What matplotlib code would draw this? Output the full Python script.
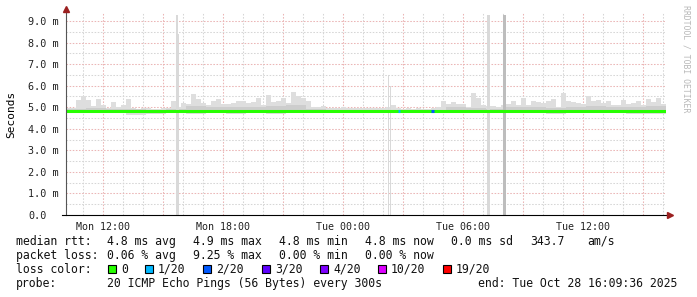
import numpy as np
import matplotlib
matplotlib.use("Agg")
import matplotlib.pyplot as plt
from matplotlib.patches import Rectangle

plt.rcParams["font.family"] = "DejaVu Sans Mono"

W, H = 697, 297

# time axis in hours since Mon 00:00, graph ends Tue 16:09:36
t_end = 40.16
t_start = t_end - 30.0

# smoke top (max ping) per 15 min bin, ms
smoke_hi = [
    4.95, 4.95, 5.35, 5.50, 5.35, 5.05, 5.40, 5.10, 4.95, 5.25,
    5.00, 5.10, 5.40, 4.95, 4.90, 4.95, 4.95, 4.90, 4.90, 4.95,
    4.95, 5.30, 5.00, 5.20, 5.15, 5.60, 5.40, 5.20, 5.10, 5.30,
    5.40, 5.15, 5.15, 5.20, 5.30, 5.30, 5.20, 5.25, 5.45, 5.10,
    5.55, 5.25, 5.30, 5.45, 5.20, 5.70, 5.50, 5.45, 5.30, 5.00,
    5.00, 5.05, 4.95, 4.95, 4.95, 5.00, 4.95, 4.95, 4.95, 4.95,
    4.95, 4.95, 4.95, 4.95, 5.00, 5.10, 4.95, 4.90, 4.95, 4.90,
    4.95, 4.90, 4.90, 4.95, 5.00, 5.30, 5.15, 5.25, 5.15, 5.15,
    5.00, 5.65, 5.45, 5.10, 5.05, 5.05, 5.00, 5.10, 5.15, 5.30,
    5.10, 5.45, 5.10, 5.30, 5.25, 5.20, 5.30, 5.40, 5.00, 5.65,
    5.30, 5.25, 5.20, 5.15, 5.50, 5.30, 5.35, 5.20, 5.30, 5.10,
    5.10, 5.35, 5.15, 5.20, 5.30, 5.10, 5.40, 5.25, 5.45, 5.15,
]

# hourly values: darker smoke top, smoke bottom, median rtt (ms)
smoke_mid = [
    4.92, 4.97, 4.90, 4.90, 4.86, 4.90, 5.05, 5.02, 5.00, 5.02,
    5.05, 5.08, 4.92, 4.87, 4.87, 4.87, 4.87, 4.86, 4.87, 5.00,
    4.95, 4.92, 5.00, 5.02, 4.95, 5.03, 5.05, 5.00, 5.02, 5.05,
]
smoke_lo = [
    4.72, 4.72, 4.71, 4.66, 4.70, 4.72, 4.68, 4.72, 4.70, 4.71,
    4.68, 4.71, 4.72, 4.71, 4.72, 4.72, 4.71, 4.72, 4.72, 4.71,
    4.72, 4.72, 4.71, 4.72, 4.70, 4.72, 4.71, 4.72, 4.70, 4.69,
]
median = [
    4.82, 4.82, 4.83, 4.82, 4.82, 4.83, 4.82, 4.83, 4.83, 4.82,
    4.82, 4.82, 4.81, 4.81, 4.81, 4.81, 4.81, 4.81, 4.81, 4.82,
    4.82, 4.82, 4.82, 4.83, 4.82, 4.82, 4.82, 4.82, 4.82, 4.81,
]

# isolated spikes: time (h), height (ms), width (h), shade
spike_t = [15.66, 15.76, 26.26, 26.34, 31.20, 32.02]
spike_v = [9.30, 8.40, 6.50, 6.00, 9.30, 9.30]
spike_w = [0.09, 0.07, 0.06, 0.06, 0.14, 0.14]
spike_c = ["#d9d9d9", "#d9d9d9", "#d9d9d9", "#d9d9d9", "#d9d9d9", "#bdbdbd"]

# packet loss periods (start h, end h, loss colour index)
loss_t0 = [26.76, 28.41]
loss_t1 = [26.88, 28.56]
loss_i = [1, 2]

loss_labels = ["0", "1/20", "2/20", "3/20", "4/20", "10/20", "19/20"]
loss_colors = ["#26ff00", "#00b8ff", "#0059ff", "#5e00ff", "#7e00ff", "#dd00ff", "#ff0000"]

xtick_pos = [12, 18, 24, 30, 36]
xtick_lab = ["Mon 12:00", "Mon 18:00", "Tue 00:00", "Tue 06:00", "Tue 12:00"]
ytick_pos = list(range(10))
ytick_lab = ["0.0"] + ["%d.0 m" % v for v in range(1, 10)]

fig = plt.figure(figsize=(W / 100, H / 100), dpi=100)
ax = fig.add_axes([66 / W, 1 - 215 / H, 600 / W, 202 / H])
ax.set_xlim(t_start, t_end)
ax.set_ylim(0, 9.37)
for s in ax.spines.values():
    s.set_visible(False)

# grid
dots = (0, (1.5, 1.5))
for h in np.arange(11, 41, 1):
    major = h % 3 == 0
    ax.axvline(h, color="#ebb6b6" if major else "#d6d6d6", lw=0.75, ls=dots, zorder=1)
for v in np.arange(0.5, 9.4, 0.5):
    major = v % 1 == 0
    ax.axhline(v, color="#ebb6b6" if major else "#d6d6d6", lw=0.75, ls=dots, zorder=1)

# smoke
e15 = t_start + 0.25 * np.arange(len(smoke_hi) + 1)
eh = t_start + np.arange(len(median) + 1)
lo15 = np.repeat(smoke_lo, 4)
ax.fill_between(e15, np.append(lo15, lo15[-1]), np.append(smoke_hi, smoke_hi[-1]),
                step="post", color="#dedede", lw=0, zorder=2)
ax.fill_between(eh, np.append(median, median[-1]), np.append(smoke_mid, smoke_mid[-1]),
                step="post", color="#cdcdcd", lw=0, zorder=2)
ax.bar(spike_t, spike_v, width=spike_w, color=spike_c, align="edge", lw=0, zorder=2)

# median line coloured by loss
ax.step(eh, np.append(median, median[-1]), where="post", color=loss_colors[0],
        lw=2.2, zorder=3, solid_capstyle="butt")
for a, b, i in zip(loss_t0, loss_t1, loss_i):
    m = median[int(a - t_start)]
    ax.hlines(m, a, b, color=loss_colors[i], lw=2.2, zorder=4)

# axes with arrows
ax.plot([0, 0], [0, 1.02], transform=ax.transAxes, color="#555555", lw=0.8, clip_on=False, zorder=5)
ax.plot([-0.007, 1.004], [0, 0], transform=ax.transAxes, color="black", lw=0.8, clip_on=False, zorder=5)
ax.plot([0], [1.018], marker="^", ms=4, color="#9b2020", transform=ax.transAxes, clip_on=False, zorder=6)
ax.plot([1.007], [0], marker=">", ms=4, color="#9b2020", transform=ax.transAxes, clip_on=False, zorder=6)

ax.set_xticks(xtick_pos)
ax.set_xticklabels(xtick_lab, fontsize=7.2, color="#222222")
ax.set_yticks(ytick_pos)
ax.set_yticklabels(ytick_lab, fontsize=7.3, color="#222222", ha="left")
ax.tick_params(axis="x", length=0, pad=5)
ax.tick_params(axis="y", length=0, pad=27)

fig.text(11 / W, 1 - 114 / H, "Seconds", rotation=90, ha="center", va="center", fontsize=8)
fig.text(686 / W, 1 - 5 / H, "RRDTOOL / TOBI OETIKER", rotation=270, ha="center", va="top",
         fontsize=5.9, color="#b8b8b8")


def ftext(x, y, s, **kw):
    fig.text(x / W, 1 - y / H, s, fontsize=8.3, va="baseline", color="#111111", **kw)


# legend rows
row1 = ["median rtt:", "4.8 ms avg", "4.9 ms max", "4.8 ms min", "4.8 ms now", "0.0 ms sd", "343.7", "am/s"]
row1_x = [16, 107, 193, 279, 365, 451, 530, 587]
for s, x in zip(row1, row1_x):
    ftext(x, 245, s)
row2 = ["packet loss:", "0.06 % avg", "9.25 % max", "0.00 % min", "0.00 % now"]
for s, x in zip(row2, row1_x):
    ftext(x, 259, s)
ftext(16, 273, "loss color:")
box_x = [108, 145, 203, 262, 320, 378, 443]
for x, lab, c in zip(box_x, loss_labels, loss_colors):
    fig.patches.append(Rectangle((x / W, 1 - 273 / H), 8 / W, 8 / H, transform=fig.transFigure,
                                 facecolor=c, edgecolor="black", lw=0.8))
    ftext(x + 13, 273, lab)
ftext(16, 287, "probe:")
ftext(107, 287, "20 ICMP Echo Pings (56 Bytes) every 300s")
ftext(478, 287, "end: Tue Oct 28 16:09:36 2025")

fig.savefig("out.png", dpi=100)
